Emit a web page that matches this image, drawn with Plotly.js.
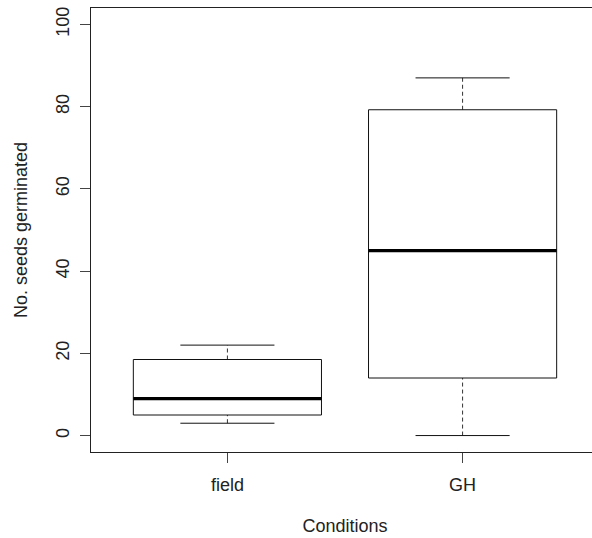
<!DOCTYPE html>
<html>
<head>
<meta charset="utf-8">
<script src="https://cdn.plot.ly/plotly-3.0.1.min.js"></script>
<style>
html, body { margin: 0; padding: 0; background: #ffffff; overflow: hidden; width: 592px; height: 538px; }
#chart { width: 600px; height: 538px; }
</style>
</head>
<body>
<div id="chart"></div>
<script>
// Data
var categories   = ['field', 'GH'];
var lowerWhisker = [3, 0];
var q1           = [5, 14];
var medians      = [9, 45];
var q3           = [18.5, 79.25];
var upperWhisker = [22, 87];
var yTicks       = [0, 20, 40, 60, 80, 100];

var boxHalf = 0.4, capHalf = 0.2;
var traces = [];
var lineCol = '#111111';

categories.forEach(function (c, i) {
  var x = i + 1;
  // lower whisker (dashed)
  traces.push({ x: [x, x], y: [lowerWhisker[i], q1[i]], mode: 'lines', type: 'scatter',
    line: { color: '#333', width: 1, dash: '4px,3px' }, hoverinfo: 'skip', showlegend: false });
  // upper whisker (dashed)
  traces.push({ x: [x, x], y: [q3[i], upperWhisker[i]], mode: 'lines', type: 'scatter',
    line: { color: '#333', width: 1, dash: '4px,3px' }, hoverinfo: 'skip', showlegend: false });
  // caps
  traces.push({ x: [x - capHalf, x + capHalf], y: [lowerWhisker[i], lowerWhisker[i]], mode: 'lines', type: 'scatter',
    line: { color: lineCol, width: 1 }, hoverinfo: 'skip', showlegend: false });
  traces.push({ x: [x - capHalf, x + capHalf], y: [upperWhisker[i], upperWhisker[i]], mode: 'lines', type: 'scatter',
    line: { color: lineCol, width: 1 }, hoverinfo: 'skip', showlegend: false });
  // box
  traces.push({ x: [x - boxHalf, x + boxHalf, x + boxHalf, x - boxHalf, x - boxHalf],
    y: [q1[i], q1[i], q3[i], q3[i], q1[i]], mode: 'lines', type: 'scatter',
    line: { color: lineCol, width: 1 }, hoverinfo: 'skip', showlegend: false });
  // median
  traces.push({ x: [x - boxHalf, x + boxHalf], y: [medians[i], medians[i]], mode: 'lines', type: 'scatter',
    line: { color: '#000', width: 3.2 }, hoverinfo: 'skip', showlegend: false });
});

var fontFam = 'Liberation Sans, Arial, sans-serif';
var layout = {
  width: 600, height: 538,
  margin: { l: 91, r: 1, t: 8, b: 86 },
  paper_bgcolor: '#ffffff', plot_bgcolor: '#ffffff',
  showlegend: false,
  font: { family: fontFam, size: 18, color: '#222' },
  xaxis: {
    range: [0.42, 2.58], tickvals: [1, 2], ticktext: categories,
    showgrid: false, zeroline: false, showline: true, mirror: true,
    linecolor: '#222', linewidth: 1,
    ticks: 'outside', ticklen: 10, tickcolor: '#444', tickwidth: 1,
    ticklabelstandoff: 6,
    tickfont: { family: fontFam, size: 18, color: '#222' },
    title: { text: 'Conditions', font: { family: fontFam, size: 18, color: '#222' }, standoff: 25 }
  },
  yaxis: {
    range: [-4, 104], tickvals: yTicks, ticktext: yTicks.map(String),
    showgrid: false, zeroline: false, showline: true, mirror: true,
    linecolor: '#222', linewidth: 1,
    ticks: 'outside', ticklen: 10, tickcolor: '#444', tickwidth: 1,
    tickangle: -90, ticklabelstandoff: 4,
    tickfont: { family: fontFam, size: 18, color: '#222' },
    title: { text: 'No. seeds germinated', font: { family: fontFam, size: 18, color: '#222' }, standoff: 20 }
  }
};

Plotly.newPlot('chart', traces, layout, { displayModeBar: false, staticPlot: true });
</script>
</body>
</html>
